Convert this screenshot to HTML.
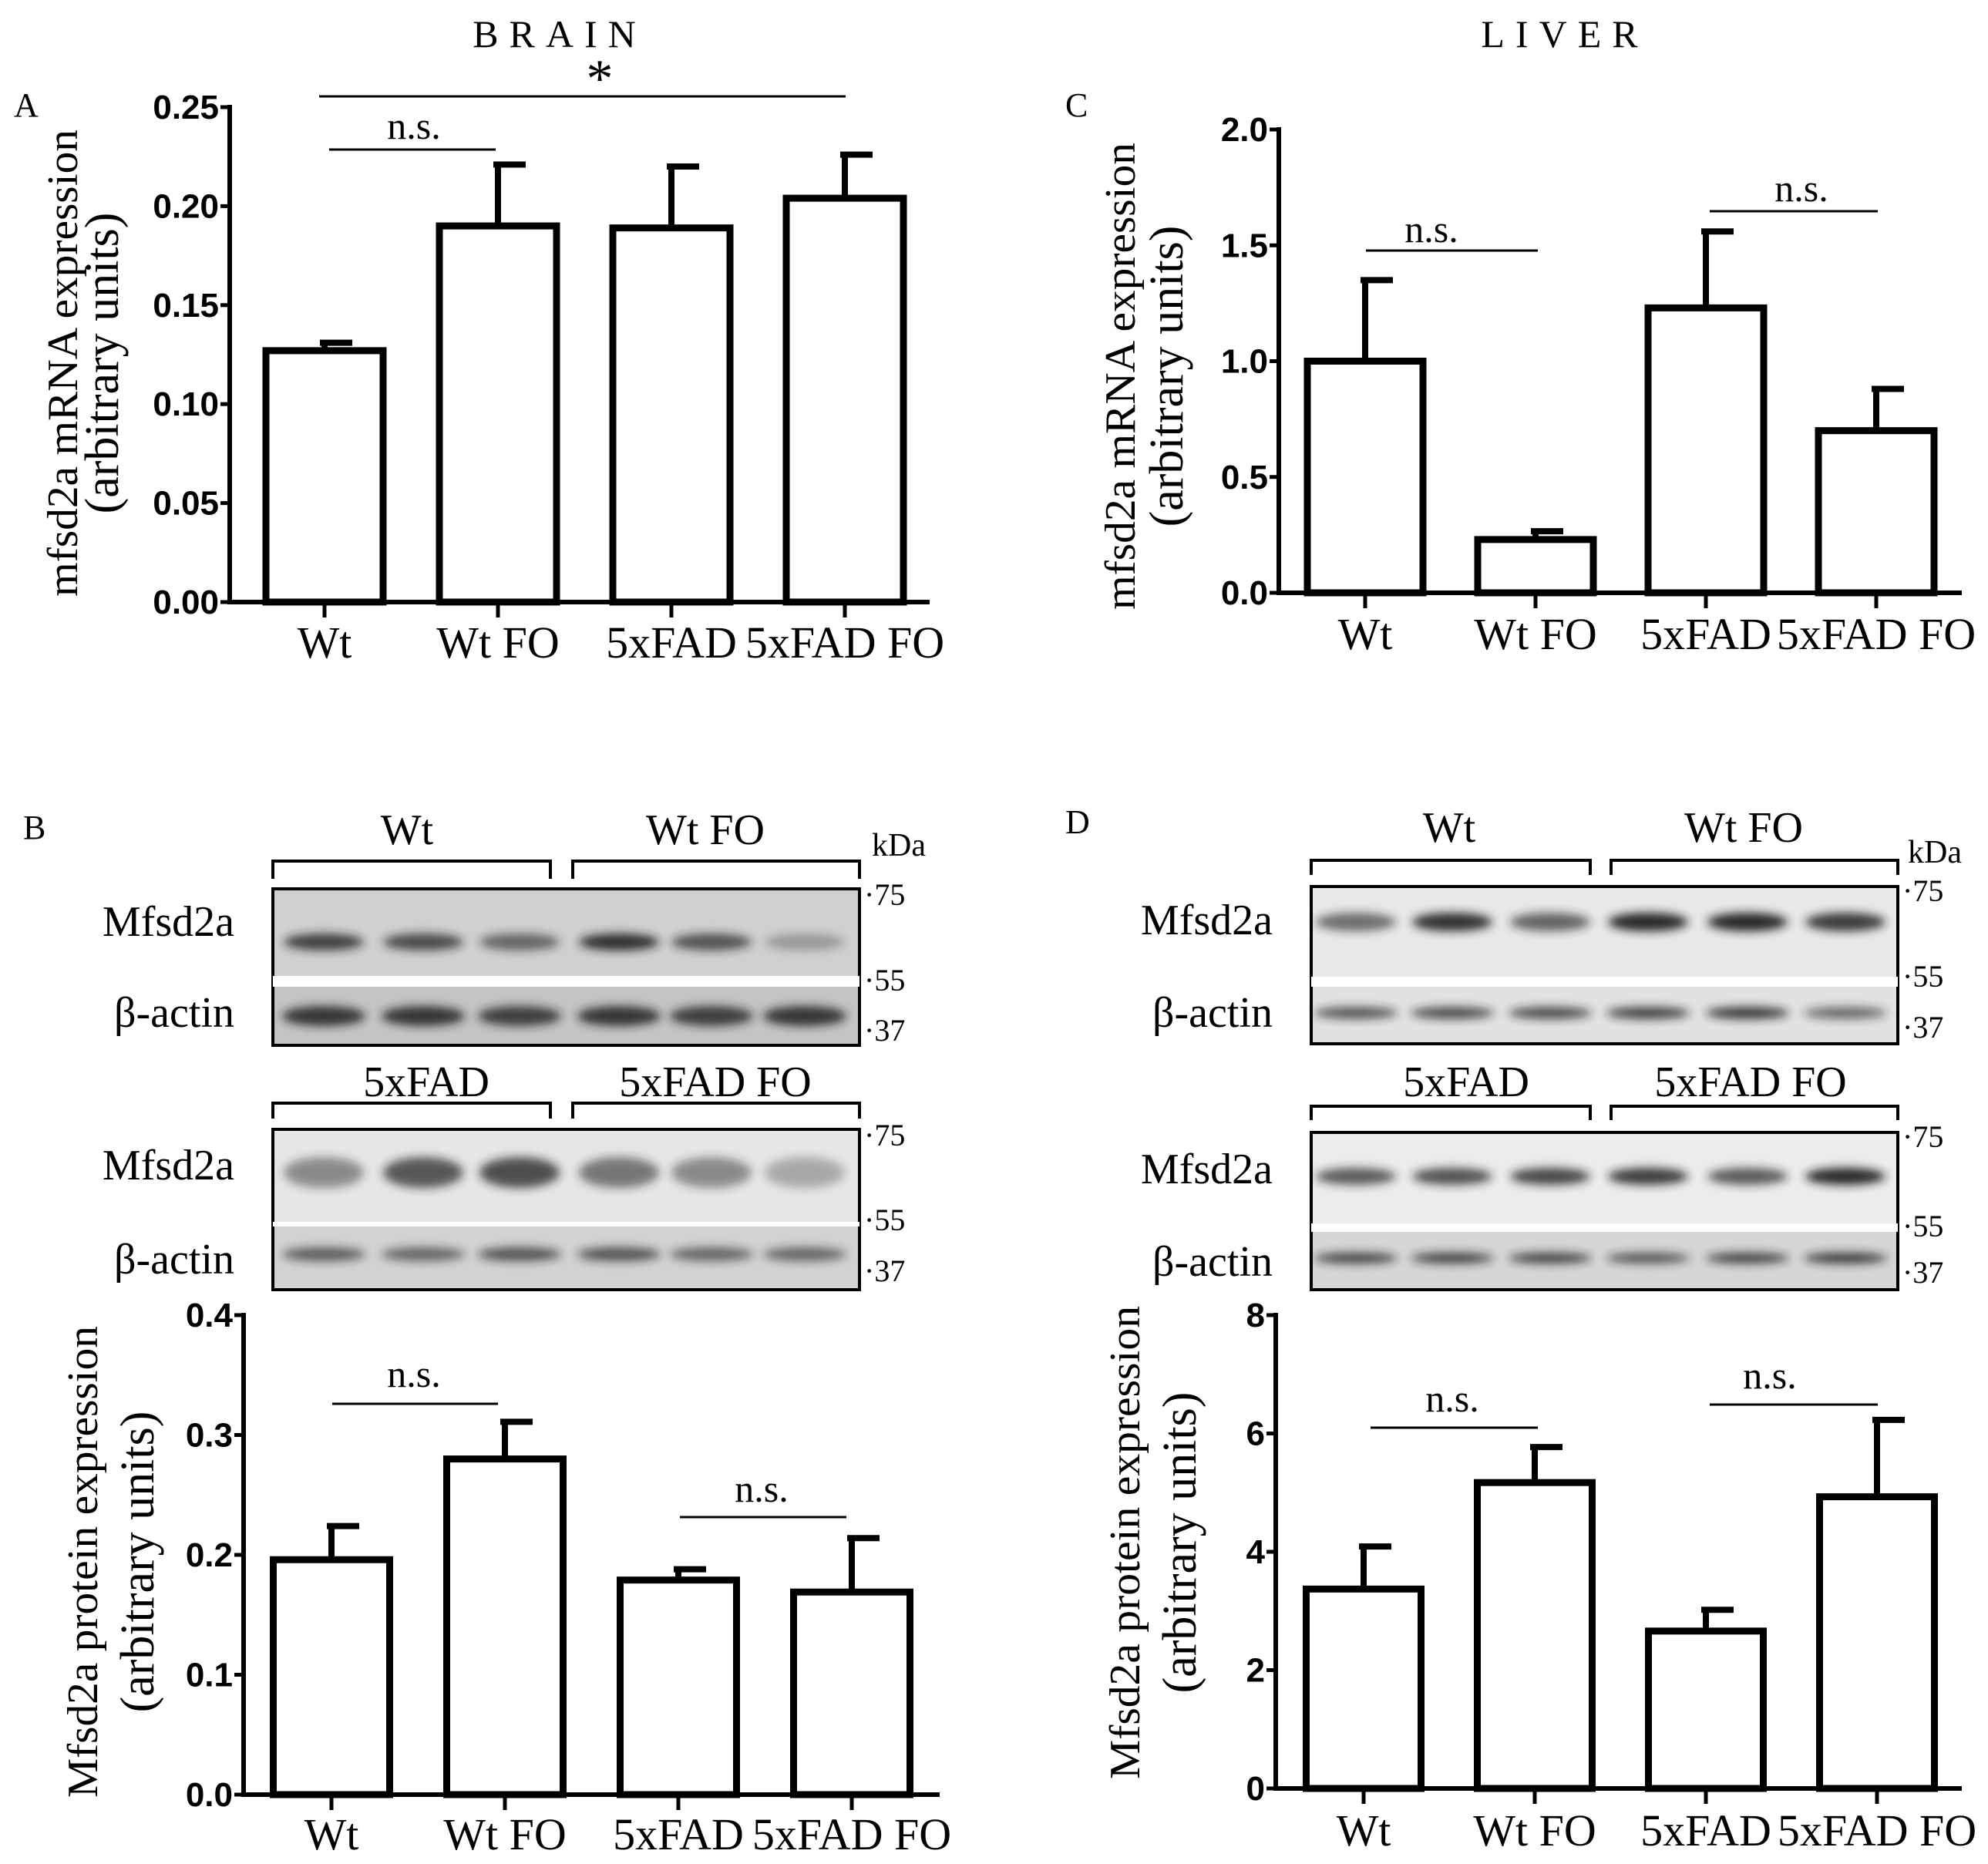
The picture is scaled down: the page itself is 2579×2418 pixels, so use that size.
<!DOCTYPE html>
<html><head><meta charset="utf-8"><title>Mfsd2a expression in brain and liver</title>
<style>
html,body{margin:0;padding:0;background:#fff;}
svg{display:block;}
.serif{font-family:"Liberation Serif",serif;}
.sans{font-family:"Liberation Sans",sans-serif;font-weight:bold;}
</style></head>
<body>
<svg id="fig" xmlns="http://www.w3.org/2000/svg" width="2579" height="2418" viewBox="0 0 2579 2418">
<defs>
<filter id="blur" x="-30%" y="-100%" width="160%" height="300%"><feGaussianBlur stdDeviation="6"/></filter>
</defs>
<text class="serif" x="726" y="61" font-size="50" text-anchor="middle" letter-spacing="14">BRAIN</text>
<text class="serif" x="2030" y="61" font-size="50" text-anchor="middle" letter-spacing="14">LIVER</text>
<text class="serif" x="18" y="151" font-size="44">A</text>
<text class="serif" x="1382" y="151" font-size="44">C</text>
<text class="serif" x="30" y="1088" font-size="44">B</text>
<text class="serif" x="1382" y="1081" font-size="44">D</text>
<g id="charts"></g>
<g id="blots"></g>
</svg>
<script>
// ---- chart data ----
const categories = ["Wt", "Wt FO", "5xFAD", "5xFAD FO"];
const brainMrnaMean = [0.127, 0.190, 0.189, 0.204];
const brainMrnaErr = [0.131, 0.221, 0.220, 0.226];
const brainMrnaTicks = [0, 0.05, 0.10, 0.15, 0.20, 0.25];
const brainMrnaTickLabels = ["0.00", "0.05", "0.10", "0.15", "0.20", "0.25"];
const liverMrnaMean = [1.00, 0.23, 1.23, 0.70];
const liverMrnaErr = [1.35, 0.266, 1.56, 0.88];
const liverMrnaTicks = [0, 0.5, 1.0, 1.5, 2.0];
const liverMrnaTickLabels = ["0.0", "0.5", "1.0", "1.5", "2.0"];
const brainProtMean = [0.196, 0.280, 0.179, 0.169];
const brainProtErr = [0.224, 0.311, 0.188, 0.214];
const brainProtTicks = [0, 0.1, 0.2, 0.3, 0.4];
const brainProtTickLabels = ["0.0", "0.1", "0.2", "0.3", "0.4"];
const liverProtMean = [3.37, 5.17, 2.66, 4.93];
const liverProtErr = [4.09, 5.77, 3.02, 6.23];
const liverProtTicks = [0, 2, 4, 6, 8];
const liverProtTickLabels = ["0", "2", "4", "6", "8"];

const NS = "http://www.w3.org/2000/svg";
function mk(tag, attrs, parent) {
  const e = document.createElementNS(NS, tag);
  for (const k in attrs) e.setAttribute(k, attrs[k]);
  parent.appendChild(e);
  return e;
}

function drawChart(id, g, L, means, errs, ticks, tickLabels, yl1, yl2, sig) {
  const grp = mk("g", {}, g);
  
  
  const yScale = v => L.y0 - (v / L.vmax) * (L.y0 - L.yTop);
  const xScale = i => L.c0 + i * L.step;
  const ya = mk("line", {x1: L.ax, y1: L.yTop - 3, x2: L.ax, y2: L.y0, stroke: "#000", "stroke-width": 6}, grp);
  
  
  ticks.forEach((t, i) => {
    const y = yScale(t);
    const tk = mk("line", {x1: L.ax - 12, y1: y, x2: L.ax, y2: y, stroke: "#000", "stroke-width": 5}, grp);
    
    
    const tl = mk("text", {x: L.ax - 14, y: y + 15, "font-size": 44, "text-anchor": "end", class: "sans"}, grp);
    
    
    tl.textContent = tickLabels[i];
  });
  const xa = mk("line", {x1: L.ax - 3, y1: L.y0, x2: L.xEnd, y2: L.y0, stroke: "#000", "stroke-width": 6}, grp);
  
  
  categories.forEach((c, i) => {
    const x = xScale(i);
    const tk = mk("line", {x1: x, y1: L.y0, x2: x, y2: L.y0 + 20, stroke: "#000", "stroke-width": 5}, grp);
    
    
    const tl = mk("text", {x: x, y: L.xlY, "font-size": 58, "text-anchor": "middle", class: "serif"}, grp);
    
    
    tl.textContent = c;
    const ey = yScale(errs[i]);
    const vy = yScale(means[i]);
    const el = mk("line", {x1: x, y1: vy, x2: x, y2: ey, stroke: "#000", "stroke-width": 8}, grp);
    
    
    const cap = mk("line", {x1: x - 6, y1: ey, x2: x + 36, y2: ey, stroke: "#000", "stroke-width": 8}, grp);
    
    
    const b = mk("rect", {x: x - L.bw / 2, y: vy, width: L.bw, height: L.y0 - vy, fill: "#fff", stroke: "#000", "stroke-width": 9}, grp);
    
    
  });
  const t1 = mk("text", {x: 0, y: 0, "font-size": 56, "text-anchor": "middle", class: "serif", transform: "translate(" + L.yl1x + "," + L.ylc + ") rotate(-90)", textLength: L.yllen, lengthAdjust: "spacingAndGlyphs"}, grp);
  
  
  t1.textContent = yl1;
  const t2 = mk("text", {x: 0, y: 0, "font-size": 62, "text-anchor": "middle", class: "serif", transform: "translate(" + L.yl2x + "," + L.ylc + ") rotate(-90)"}, grp);
  
  
  t2.textContent = yl2;
  sig.forEach(s => {
    const ln = mk("line", {x1: s.x1, y1: s.y, x2: s.x2, y2: s.y, stroke: "#000", "stroke-width": 3}, grp);
    
    
    const st = mk("text", {x: s.tx, y: s.ty, "font-size": s.fs || 50, "text-anchor": "middle", class: "serif"}, grp);
    
    
    st.textContent = s.t;
  });
}

const charts = document.getElementById("charts");
drawChart("chart-brain-mrna", charts,
  {ax: 298, xEnd: 1206, y0: 781, yTop: 139, vmax: 0.25, c0: 421, step: 225, bw: 152, xlY: 853, yl1x: 100, yl2x: 153, ylc: 471, yllen: 606},
  brainMrnaMean, brainMrnaErr, brainMrnaTicks, brainMrnaTickLabels,
  "mfsd2a mRNA expression", "(arbitrary units)",
  [{x1: 414, x2: 1097, y: 125, tx: 778, ty: 125, t: "*", fs: 70}, {x1: 427, x2: 643, y: 194, tx: 537, ty: 180, t: "n.s."}]);
drawChart("chart-liver-mrna", charts,
  {ax: 1659, xEnd: 2545, y0: 769, yTop: 168, vmax: 2.0, c0: 1771, step: 221, bw: 150, xlY: 842, yl1x: 1472, yl2x: 1534, ylc: 488, yllen: 606},
  liverMrnaMean, liverMrnaErr, liverMrnaTicks, liverMrnaTickLabels,
  "mfsd2a mRNA expression", "(arbitrary units)",
  [{x1: 1772, x2: 1995, y: 325, tx: 1857, ty: 314, t: "n.s."}, {x1: 2218, x2: 2436, y: 274, tx: 2337, ty: 261, t: "n.s."}]);
drawChart("chart-brain-protein", charts,
  {ax: 316, xEnd: 1219, y0: 2328, yTop: 1706, vmax: 0.4, c0: 430, step: 225, bw: 151, xlY: 2399, yl1x: 126, yl2x: 199, ylc: 2026, yllen: 612},
  brainProtMean, brainProtErr, brainProtTicks, brainProtTickLabels,
  "Mfsd2a protein expression", "(arbitrary units)",
  [{x1: 431, x2: 646, y: 1821, tx: 537, ty: 1799, t: "n.s."}, {x1: 882, x2: 1098, y: 1968, tx: 988, ty: 1948, t: "n.s."}]);
drawChart("chart-liver-protein", charts,
  {ax: 1655, xEnd: 2545, y0: 2320, yTop: 1706, vmax: 8, c0: 1769, step: 222, bw: 149, xlY: 2394, yl1x: 1478, yl2x: 1551, ylc: 2001, yllen: 614},
  liverProtMean, liverProtErr, liverProtTicks, liverProtTickLabels,
  "Mfsd2a protein expression", "(arbitrary units)",
  [{x1: 1778, x2: 1995, y: 1852, tx: 1884, ty: 1831, t: "n.s."}, {x1: 2218, x2: 2436, y: 1822, tx: 2296, ty: 1801, t: "n.s."}]);

// ---- western blots ----
const blotB1Mfsd = [0.8, 0.75, 0.6, 0.9, 0.7, 0.3];
const blotB1Actin = [0.85, 0.85, 0.8, 0.85, 0.8, 0.85];
const blotB2Mfsd = [0.45, 0.7, 0.75, 0.55, 0.45, 0.3];
const blotB2Actin = [0.65, 0.6, 0.7, 0.7, 0.6, 0.6];
const blotD1Mfsd = [0.6, 0.9, 0.65, 0.95, 0.95, 0.85];
const blotD1Actin = [0.7, 0.75, 0.75, 0.8, 0.85, 0.6];
const blotD2Mfsd = [0.7, 0.75, 0.8, 0.85, 0.7, 0.95];
const blotD2Actin = [0.8, 0.8, 0.8, 0.7, 0.8, 0.85];

const blots = document.getElementById("blots");
function blot(id, B, mf, ac) {
  const g = mk("g", {}, blots);
  
  
  B.heads.forEach((h, i) => {
    const t = mk("text", {x: h.cx, y: B.headY, "font-size": 56, "text-anchor": "middle", class: "serif"}, g);
    
    
    t.textContent = h.t;
    const br = mk("path", {d: "M" + h.x1 + "," + B.brB + " V" + B.brT + " H" + h.x2 + " V" + B.brB, fill: "none", stroke: "#000", "stroke-width": 4}, g);
    
    
  });
  const r1 = mk("rect", {x: B.x1, y: B.top, width: B.x2 - B.x1, height: B.gap1 - B.top, fill: B.bg1}, g);
  
  
  const r2 = mk("rect", {x: B.x1, y: B.gap2, width: B.x2 - B.x1, height: B.bot - B.gap2, fill: B.bg2}, g);
  
  
  B.lanes.forEach((lx, i) => {
    const e1 = mk("ellipse", {cx: lx, cy: B.mfY, rx: 52, ry: B.mfR, fill: "rgb(30,30,30)", opacity: mf[i], filter: "url(#blur)"}, g);
    
    
    const e2 = mk("ellipse", {cx: lx, cy: B.acY, rx: 54, ry: B.acR, fill: "rgb(30,30,30)", opacity: ac[i], filter: "url(#blur)"}, g);
    
    
  });
  const fr = mk("rect", {x: B.x1, y: B.top, width: B.x2 - B.x1, height: B.bot - B.top, fill: "none", stroke: "#000", "stroke-width": 4}, g);
  
  
  const wg = mk("rect", {x: B.x1, y: B.gap1, width: B.x2 - B.x1, height: B.gap2 - B.gap1, fill: "#fff"}, g);
  
  
  const l1 = mk("text", {x: B.labX, y: B.mfLabY, "font-size": 56, "text-anchor": "end", class: "serif"}, g);
  
  
  l1.textContent = "Mfsd2a";
  const l2 = mk("text", {x: B.labX, y: B.acLabY, "font-size": 56, "text-anchor": "end", class: "serif"}, g);
  
  
  l2.textContent = "β-actin";
  B.marks.forEach(m => {
    const t = mk("text", {x: B.x2 + 6, y: m.y + 14, "font-size": 40, class: "serif"}, g);
    
    
    t.textContent = "·" + m.t;
  });
  if (B.kda) {
    const k = mk("text", {x: B.kda.x, y: B.kda.y, "font-size": 42, class: "serif"}, g);
    
    
    k.textContent = "kDa";
  }
}
const lanesB = [420, 549, 674, 803, 923, 1044];
const lanesD = [1759, 1884, 2011, 2138, 2267, 2394];
blot("blot-brain-wt", {heads: [{t: "Wt", cx: 528, x1: 354, x2: 714}, {t: "Wt FO", cx: 915, x1: 743, x2: 1115}], headY: 1095, brT: 1117, brB: 1140,
  x1: 354, x2: 1115, top: 1153, gap1: 1266, gap2: 1280, bot: 1356, bg1: "#d0d0d0", bg2: "#c4c4c4", lanes: lanesB, mfY: 1222, mfR: 11, acY: 1318, acR: 13,
  labX: 304, mfLabY: 1214, acLabY: 1332, marks: [{t: "75", y: 1160}, {t: "55", y: 1271}, {t: "37", y: 1336}], kda: {x: 1131, y: 1110}}, blotB1Mfsd, blotB1Actin);
blot("blot-brain-5xfad", {heads: [{t: "5xFAD", cx: 553, x1: 354, x2: 714}, {t: "5xFAD FO", cx: 928, x1: 743, x2: 1115}], headY: 1422, brT: 1431, brB: 1451,
  x1: 354, x2: 1115, top: 1465, gap1: 1585, gap2: 1591, bot: 1673, bg1: "#e6e6e6", bg2: "#d2d2d2", lanes: lanesB, mfY: 1521, mfR: 20, acY: 1627, acR: 9,
  labX: 304, mfLabY: 1530, acLabY: 1652, marks: [{t: "75", y: 1472}, {t: "55", y: 1582}, {t: "37", y: 1648}]}, blotB2Mfsd, blotB2Actin);
blot("blot-liver-wt", {heads: [{t: "Wt", cx: 1880, x1: 1701, x2: 2063}, {t: "Wt FO", cx: 2262, x1: 2090, x2: 2462}], headY: 1092, brT: 1116, brB: 1135,
  x1: 1701, x2: 2462, top: 1150, gap1: 1267, gap2: 1280, bot: 1354, bg1: "#e8e8e8", bg2: "#e2e2e2", lanes: lanesD, mfY: 1196, mfR: 12, acY: 1314, acR: 8,
  labX: 1651, mfLabY: 1212, acLabY: 1332, marks: [{t: "75", y: 1155}, {t: "55", y: 1266}, {t: "37", y: 1332}], kda: {x: 2475, y: 1119}}, blotD1Mfsd, blotD1Actin);
blot("blot-liver-5xfad", {heads: [{t: "5xFAD", cx: 1902, x1: 1701, x2: 2063}, {t: "5xFAD FO", cx: 2271, x1: 2090, x2: 2462}], headY: 1422, brT: 1435, brB: 1453,
  x1: 1701, x2: 2462, top: 1469, gap1: 1587, gap2: 1598, bot: 1673, bg1: "#ececec", bg2: "#d6d6d6", lanes: lanesD, mfY: 1526, mfR: 11, acY: 1632, acR: 7,
  labX: 1651, mfLabY: 1535, acLabY: 1655, marks: [{t: "75", y: 1474}, {t: "55", y: 1590}, {t: "37", y: 1650}]}, blotD2Mfsd, blotD2Actin);
</script>
</body></html>
